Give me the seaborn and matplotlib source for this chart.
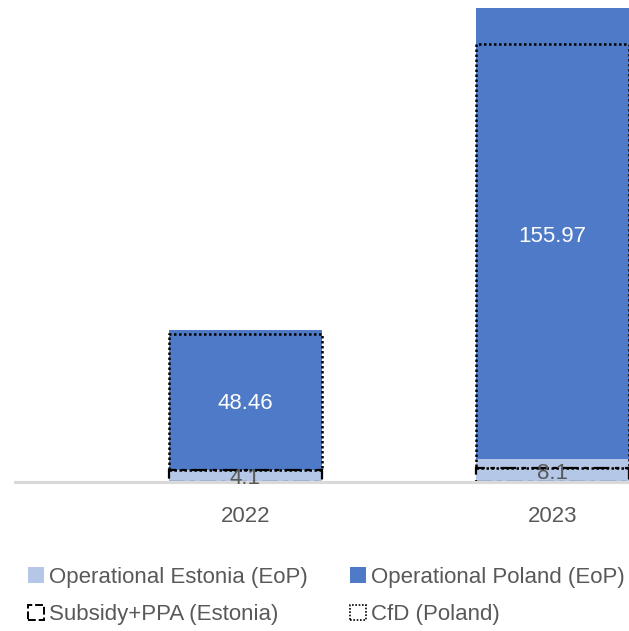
import matplotlib
matplotlib.use("Agg")
import matplotlib.pyplot as plt
from matplotlib.patches import Patch
import numpy as np
import pandas as pd
import seaborn as sns

# Installed capacity by year (MW)
years = ["2022", "2023"]
operational_estonia = [4.1, 8.1]
operational_poland = [48.46, 155.97]
subsidy_ppa_estonia = [4.1, 4.9]
cfd_poland = [47.1, 146.7]

LIGHT = "#b4c7e7"
DARK = "#4e7ac7"
TEXT = "#595959"

sns.set_theme(style="white")
plt.rcParams["font.family"] = ["Liberation Sans", "DejaVu Sans"]

fig = plt.figure(figsize=(6.29, 6.31), dpi=100)
ax = fig.add_axes([15 / 629, 149 / 631, 614 / 629, 482 / 631])

df = pd.DataFrame({
    "year": years,
    "estonia": operational_estonia,
    "poland": operational_poland,
})
df["total"] = df["estonia"] + df["poland"]

# Stacked bars: total (Poland on top) drawn first, Estonia over its base
sns.barplot(data=df, x="year", y="total", color=DARK, saturation=1,
            width=0.5, ax=ax, linewidth=0)
sns.barplot(data=df, x="year", y="estonia", color=LIGHT, saturation=1,
            width=0.5, ax=ax, linewidth=0)

x = np.arange(len(years))
# Support-scheme outlines stacked on their own
ax.bar(x, subsidy_ppa_estonia, width=0.5, fill=False, edgecolor="black",
       linewidth=1.6, linestyle=(0, (7, 2.5, 2, 2.5)), zorder=4)
ax.bar(x, cfd_poland, width=0.5, bottom=subsidy_ppa_estonia, fill=False,
       edgecolor="black", linewidth=1.8, linestyle=(0, (1, 1)), zorder=4)

# Value labels
for i in range(len(years)):
    e = operational_estonia[i]
    p = operational_poland[i]
    ax.text(x[i], e / 2 - 1.0, f"{e:g}", ha="center", va="center",
            color=TEXT, fontsize=16, zorder=12, clip_on=False)
    ax.text(x[i], e + p / 2 - 1.0, f"{p:.2f}", ha="center", va="center",
            color="white", fontsize=16, zorder=12)

ax.set_xlim(-0.75, 1.25)
ax.set_ylim(0, 167)
ax.set_xlabel("")
ax.set_ylabel("")
ax.set_yticks([])
ax.tick_params(axis="x", length=0, labelsize=16, labelcolor=TEXT, pad=17)
for s in ["top", "right", "left"]:
    ax.spines[s].set_visible(False)
ax.spines["bottom"].set_color("#d9d9d9")
ax.spines["bottom"].set_linewidth(2.2)
ax.spines["bottom"].set_zorder(10)
ax.patch.set_alpha(0)

est_patch = Patch(facecolor=LIGHT, edgecolor="none", label="Operational Estonia (EoP)")
pol_patch = Patch(facecolor=DARK, edgecolor="none", label="Operational Poland (EoP)")
sub_patch = Patch(fill=False, edgecolor="black", linewidth=1.4,
                  linestyle=(0, (4, 1.5)), label="Subsidy+PPA (Estonia)")
cfd_patch = Patch(fill=False, edgecolor="black", linewidth=1.2,
                  linestyle=(0, (1, 1)), label="CfD (Poland)")
# column-major fill: first column Estonia / Subsidy, second Poland / CfD
handles = [est_patch, sub_patch, pol_patch, cfd_patch]
leg = fig.legend(handles=handles, ncol=2, loc="center left",
                 bbox_to_anchor=(28 / 629, 1 - 596 / 631), frameon=False,
                 fontsize=16, handlelength=0.7, handleheight=0.7,
                 handletextpad=0.25, columnspacing=1.9, labelspacing=0.75,
                 borderaxespad=0, borderpad=0)
for t in leg.get_texts():
    t.set_color(TEXT)

fig.savefig("out.png", dpi=100)
